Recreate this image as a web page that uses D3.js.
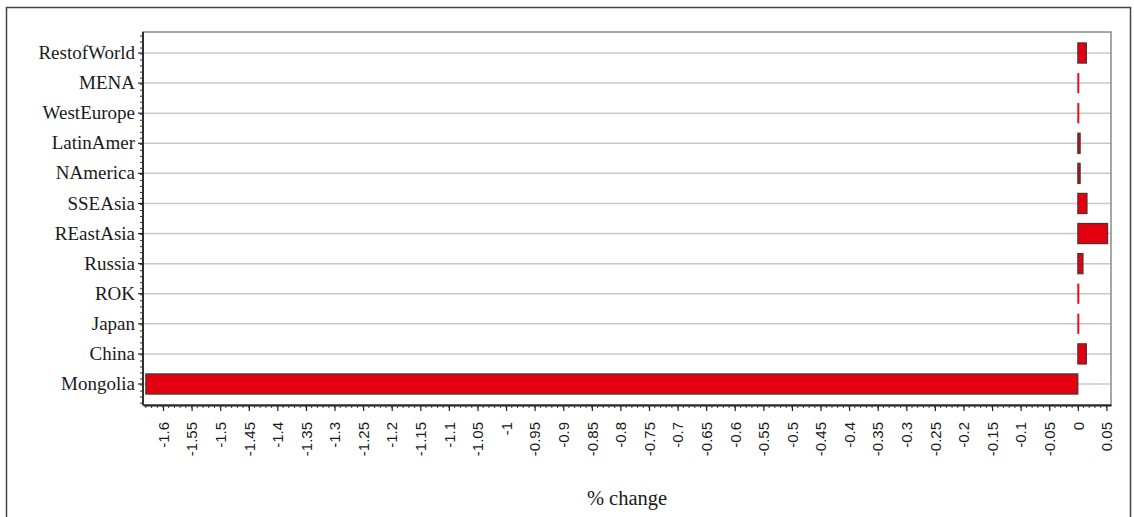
<!DOCTYPE html>
<html>
<head>
<meta charset="utf-8">
<script src="https://cdn.jsdelivr.net/npm/d3@7"></script>
<style>
  body { margin: 0; background: #fff; }
  svg { display: block; }
</style>
</head>
<body>
<svg id="chart"></svg>
<script>
// regions, top to bottom
const regions = ["RestofWorld", "MENA", "WestEurope", "LatinAmer", "NAmerica", "SSEAsia",
  "REastAsia", "Russia", "ROK", "Japan", "China", "Mongolia"];

// % change per region
const changes = [0.015, 0.001, 0.002, 0.004, 0.004, 0.016,
  0.052, 0.009, 0.001, 0.001, 0.015, -1.63];

// x axis tick values and their labels
const xTicks = [-1.6, -1.55, -1.5, -1.45, -1.4, -1.35, -1.3, -1.25, -1.2, -1.15, -1.1, -1.05, -1,
  -0.95, -0.9, -0.85, -0.8, -0.75, -0.7, -0.65, -0.6, -0.55, -0.5, -0.45, -0.4, -0.35, -0.3,
  -0.25, -0.2, -0.15, -0.1, -0.05, 0, 0.05];
const xTickLabels = ["-1.6", "-1.55", "-1.5", "-1.45", "-1.4", "-1.35", "-1.3", "-1.25", "-1.2",
  "-1.15", "-1.1", "-1.05", "-1", "-0.95", "-0.9", "-0.85", "-0.8", "-0.75", "-0.7", "-0.65",
  "-0.6", "-0.55", "-0.5", "-0.45", "-0.4", "-0.35", "-0.3", "-0.25", "-0.2", "-0.15", "-0.1",
  "-0.05", "0", "0.05"];

const xDomain = [-1.635, 0.058];
const axisTitle = "% change";

const width = 1134, height = 517;
const plot = { left: 143, right: 1111, top: 32, bottom: 405 };

const data = regions.map((r, i) => ({ region: r, value: changes[i] }));

const svg = d3.select("#chart")
  .attr("width", width)
  .attr("height", height);

// moldura externa
svg.append("rect")
  .attr("x", 6.5).attr("y", 7.5)
  .attr("width", 1124).attr("height", 530)
  .attr("fill", "none")
  .attr("stroke", "#444")
  .attr("stroke-width", 1.5);

const x = d3.scaleLinear()
  .domain(xDomain)
  .range([plot.left, plot.right]);

const y = d3.scaleBand()
  .domain(regions)
  .range([plot.top, plot.bottom])
  .paddingInner(0.33)
  .paddingOuter(0.363);

// grade horizontal
svg.append("g")
  .selectAll("line")
  .data(regions)
  .enter()
  .append("line")
  .attr("x1", plot.left)
  .attr("x2", plot.right)
  .attr("y1", d => y(d) + y.bandwidth() / 2)
  .attr("y2", d => y(d) + y.bandwidth() / 2)
  .attr("stroke", "#c8c8c8")
  .attr("stroke-width", 1.5);

// barras
svg.append("g")
  .selectAll("rect")
  .data(data)
  .enter()
  .append("rect")
  .attr("x", d => x(Math.min(0, d.value)))
  .attr("y", d => y(d.region))
  .attr("width", d => Math.abs(x(d.value) - x(0)))
  .attr("height", y.bandwidth())
  .attr("fill", "#e3000f")
  .attr("stroke", d => Math.abs(d.value) < 0.003 ? "none" : "#4a3434")
  .attr("stroke-width", 1.2);

// thin bars still need to be visible as red strokes
svg.append("g")
  .selectAll("line")
  .data(data.filter(d => Math.abs(d.value) < 0.003))
  .enter()
  .append("line")
  .attr("x1", d => x(0) + 0.5)
  .attr("x2", d => x(0) + 0.5)
  .attr("y1", d => y(d.region))
  .attr("y2", d => y(d.region) + y.bandwidth())
  .attr("stroke", "#e8141c")
  .attr("stroke-width", 2);

// moldura da área do gráfico
svg.append("rect")
  .attr("x", plot.left).attr("y", plot.top)
  .attr("width", plot.right - plot.left)
  .attr("height", plot.bottom - plot.top)
  .attr("fill", "none")
  .attr("stroke", "#8a8a8a")
  .attr("stroke-width", 1.5);

// eixo Y (regiões)
const yAxis = svg.append("g")
  .attr("transform", `translate(${plot.left},0)`)
  .call(d3.axisLeft(y).tickSize(5).tickPadding(3));
yAxis.select(".domain")
  .attr("d", `M0,${plot.top}V${plot.bottom}`)
  .attr("stroke", "#222")
  .attr("stroke-width", 1.8);
yAxis.selectAll(".tick line").attr("stroke", "#222").attr("stroke-width", 1.2);
yAxis.selectAll("text")
  .style("font-family", "'Liberation Serif', 'Times New Roman', serif")
  .style("font-size", "19px")
  .attr("fill", "#1a1a1a");

// minor ticks on the left axis
const yStep = y.step();
const yMinor = d3.range(plot.top + 4, plot.bottom, yStep / 5);
svg.append("g")
  .selectAll("line")
  .data(yMinor)
  .enter()
  .append("line")
  .attr("x1", plot.left - 3)
  .attr("x2", plot.left)
  .attr("y1", d => d)
  .attr("y2", d => d)
  .attr("stroke", "#333")
  .attr("stroke-width", 1);

// eixo X (% change)
const xAxis = svg.append("g")
  .attr("transform", `translate(0,${plot.bottom})`)
  .call(
    d3.axisBottom(x)
      .tickValues(xTicks)
      .tickFormat((d, i) => xTickLabels[i])
      .tickSize(6)
      .tickSizeOuter(0)
  );
xAxis.select(".domain").attr("stroke", "#222").attr("stroke-width", 1.8);
xAxis.selectAll(".tick line").attr("stroke", "#222").attr("stroke-width", 1.2);
xAxis.selectAll("text")
  .attr("transform", "rotate(-90)")
  .attr("x", -17)
  .attr("y", 0)
  .attr("dy", "0.35em")
  .style("text-anchor", "end")
  .style("font-family", "'Liberation Sans', Arial, sans-serif")
  .style("font-size", "15px")
  .attr("fill", "#1a1a1a");

// minor ticks a cada 0.01
const xMinor = d3.range(-163, 6).map(v => v / 100);
svg.append("g")
  .selectAll("line")
  .data(xMinor)
  .enter()
  .append("line")
  .attr("x1", d => x(d))
  .attr("x2", d => x(d))
  .attr("y1", plot.bottom)
  .attr("y2", plot.bottom + 3)
  .attr("stroke", "#333")
  .attr("stroke-width", 1);

// título do eixo
svg.append("text")
  .attr("x", (plot.left + plot.right) / 2)
  .attr("y", 505)
  .attr("text-anchor", "middle")
  .style("font-family", "'Liberation Serif', 'Times New Roman', serif")
  .style("font-size", "20.5px")
  .attr("fill", "#1a1a1a")
  .text(axisTitle);
</script>
</body>
</html>
